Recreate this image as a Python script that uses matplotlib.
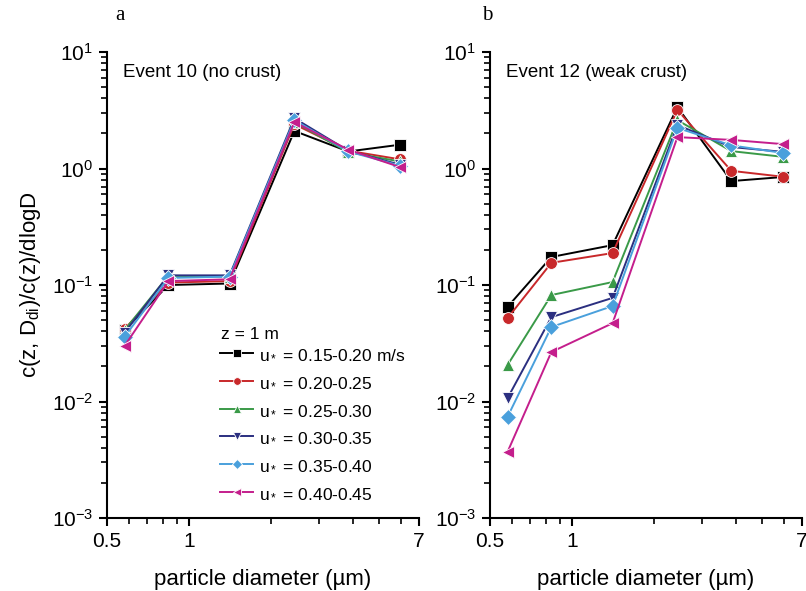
import matplotlib
matplotlib.use("Agg")
import matplotlib.pyplot as plt
from matplotlib.ticker import FixedLocator, NullFormatter, LogLocator

plt.rcParams['font.family'] = ['Liberation Sans', 'DejaVu Sans']
plt.rcParams['mathtext.fontset'] = 'custom'
plt.rcParams['mathtext.rm'] = 'Liberation Sans'
plt.rcParams['mathtext.it'] = 'Liberation Sans:italic'

diam = [0.58, 0.84, 1.41, 2.44, 3.85, 5.95]
labels = ['u$_*$ = 0.15-0.20 m/s', 'u$_*$ = 0.20-0.25', 'u$_*$ = 0.25-0.30',
          'u$_*$ = 0.30-0.35', 'u$_*$ = 0.35-0.40', 'u$_*$ = 0.40-0.45']
colors = ['#000000', '#c8282a', '#3a9a48', '#2b2f80', '#4aa0dc', '#c41e8c']
markers = ['s', 'o', '^', 'v', 'D', '<']

# event 10 (no crust)
ev10 = [
    [0.041, 0.100, 0.103, 2.10, 1.40, 1.60],
    [0.042, 0.105, 0.108, 2.40, 1.42, 1.20],
    [0.041, 0.120, 0.118, 2.50, 1.38, 1.15],
    [0.039, 0.121, 0.121, 2.70, 1.42, 1.08],
    [0.036, 0.115, 0.118, 2.60, 1.40, 1.06],
    [0.030, 0.108, 0.112, 2.50, 1.45, 1.03],
]
# event 12 (weak crust)
ev12 = [
    [0.065, 0.174, 0.220, 3.37, 0.78, 0.845],
    [0.052, 0.155, 0.188, 3.18, 0.955, 0.85],
    [0.0206, 0.082, 0.106, 2.60, 1.41, 1.26],
    [0.0107, 0.053, 0.0775, 2.36, 1.53, 1.39],
    [0.0074, 0.0436, 0.066, 2.23, 1.58, 1.36],
    [0.0037, 0.0266, 0.047, 1.86, 1.76, 1.62],
]

fig = plt.figure(figsize=(8.06, 5.91), dpi=100)
ax1 = fig.add_axes([0.1328, 0.1235, 0.387, 0.7885])
ax2 = fig.add_axes([0.608, 0.1235, 0.387, 0.7885])

for ax, data, title, tag, tx in [(ax1, ev10, 'Event 10 (no crust)', 'a', 0.04),
                                 (ax2, ev12, 'Event 12 (weak crust)', 'b', -0.01)]:
    for vals, c, m, lab in zip(data, colors, markers, labels):
        ax.plot(diam, vals, color=c, marker=m, ms=8.5, lw=1.4,
                mec='white', mew=0.6, label=lab)
    ax.set_xscale('log')
    ax.set_yscale('log')
    ax.set_xlim(0.5, 7)
    ax.set_ylim(1e-3, 10)
    ax.xaxis.set_major_locator(FixedLocator([0.5, 1, 7]))
    ax.set_xticklabels(['0.5', '1', '7'])
    ax.xaxis.set_minor_locator(FixedLocator([0.6, 0.7, 0.8, 0.9, 2, 3, 4, 5, 6]))
    ax.xaxis.set_minor_formatter(NullFormatter())
    ax.yaxis.set_major_locator(LogLocator(base=10, numticks=10))
    ax.yaxis.set_minor_locator(LogLocator(base=10, subs=range(2, 10), numticks=10))
    ax.yaxis.set_minor_formatter(NullFormatter())
    ax.spines['top'].set_visible(False)
    ax.spines['right'].set_visible(False)
    for s in ['left', 'bottom']:
        ax.spines[s].set_linewidth(1.5)
    ax.tick_params(which='major', length=6, width=1.5, labelsize=15, pad=4)
    ax.tick_params(which='minor', length=4, width=1.2)
    ax.set_xlabel('particle diameter (\u00b5m)', fontsize=16, labelpad=13)
    ax.text(0.05, 0.975, title, transform=ax.transAxes, fontsize=13.5,
            va='top', ha='left')
    ax.text(tx, 1.078, tag, transform=ax.transAxes, fontsize=15,
            family='Liberation Serif', va='center', ha='center')

ax1.set_ylabel('c(z, D$_{\\rm di}$)/c(z)/dlogD', fontsize=16, labelpad=6)

ax1.text(0.365, 0.393, 'z = 1 m', transform=ax1.transAxes, fontsize=12.5,
         va='center', ha='left')
leg = ax1.legend(loc='lower left', bbox_to_anchor=(0.33, 0.015), frameon=False,
                 fontsize=12.5, handlelength=1.9, handletextpad=0.3,
                 labelspacing=0.72, borderaxespad=0.2, markerscale=0.65)

fig.savefig('out.png', dpi=100)
